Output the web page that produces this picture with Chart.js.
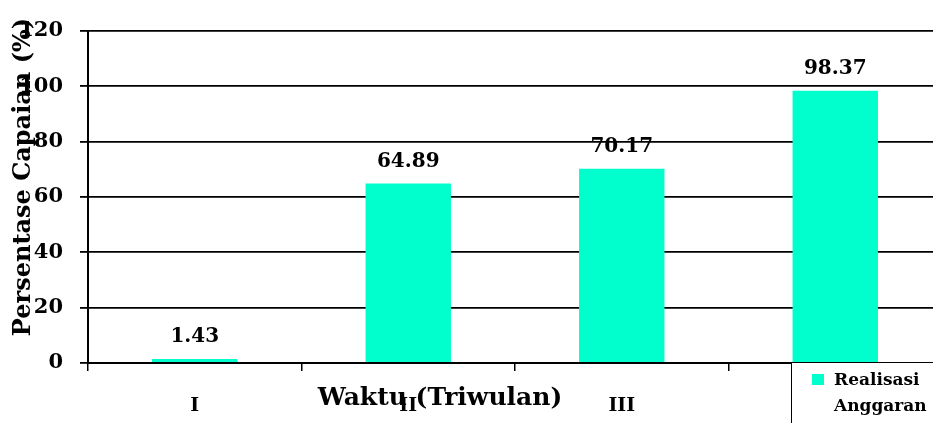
<!DOCTYPE html>
<html>
<head>
<meta charset="utf-8">
<script src="https://cdn.jsdelivr.net/npm/chart.js@4.4.1/dist/chart.umd.min.js"></script>
<style>
html,body{margin:0;padding:0;background:#fff;overflow:hidden;}
#wrap{width:945px;height:423px;position:relative;}
</style>
</head>
<body>
<div id="wrap"><canvas id="grafik"></canvas></div>
<script>
// data
const triwulan = ["I", "II", "III", "IV"];
const realisasi = [1.43, 64.89, 70.17, 98.37];
const namaSeri = ["Realisasi", "Anggaran"];
const judulY = "Persentase Capaian (%)";
const judulX = "Waktu (Triwulan)";

const hurufSerif = "'DejaVu Serif', 'Liberation Serif', serif";
const warnaBatang = "#00ffcc";

// label nilai di atas batang
const labelNilai = {
    id: "labelNilai",
    afterDatasetsDraw(chart) {
        const ctx = chart.ctx;
        const meta = chart.getDatasetMeta(0);
        ctx.save();
        ctx.font = "bold 20px " + hurufSerif;
        ctx.fillStyle = "#000";
        ctx.textAlign = "center";
        ctx.textBaseline = "bottom";
        meta.data.forEach((bar, i) => {
            ctx.fillText(realisasi[i].toFixed(2), bar.x, bar.y - 12);
        });
        ctx.restore();
    }
};

// judul sumbu + kotak legenda (ditumpuk di atas seperti aslinya)
const hiasan = {
    id: "hiasan",
    afterDraw(chart) {
        const ctx = chart.ctx;
        ctx.save();
        ctx.fillStyle = "#000";

        ctx.font = "bold 25px " + hurufSerif;
        ctx.textAlign = "center";
        ctx.textBaseline = "middle";
        ctx.fillText(judulX, 440, 398);

        ctx.font = "bold 24px " + hurufSerif;
        ctx.translate(24, 177);
        ctx.rotate(-Math.PI / 2);
        ctx.fillText(judulY, 0, 0);
        ctx.restore();

        // legenda
        ctx.save();
        const lx = 791, ly = 362;
        ctx.fillStyle = "#fff";
        ctx.fillRect(lx, ly, 200, 80);
        ctx.strokeStyle = "#000";
        ctx.lineWidth = 1;
        ctx.strokeRect(lx + 0.5, ly + 0.5, 200, 80);
        ctx.fillStyle = warnaBatang;
        ctx.fillRect(812, 374, 12, 11);
        ctx.fillStyle = "#000";
        ctx.font = "bold 17px " + hurufSerif;
        ctx.textAlign = "left";
        ctx.textBaseline = "middle";
        ctx.fillText(namaSeri[0], 834, 381);
        ctx.fillText(namaSeri[1], 834, 407);
        ctx.restore();
    }
};

new Chart(document.getElementById("grafik"), {
    type: "bar",
    data: {
        labels: triwulan,
        datasets: [{
            label: namaSeri.join(" "),
            data: realisasi,
            backgroundColor: warnaBatang,
            borderWidth: 0,
            barPercentage: 0.4,
            categoryPercentage: 1.0
        }]
    },
    options: {
        responsive: true,
        maintainAspectRatio: false,
        animation: false,
        layout: { padding: { left: 0, right: 3, top: 31, bottom: 0 } },
        scales: {
            x: {
                offset: true,
                afterFit(scale) { scale.height = 60; },
                grid: {
                    offset: true,
                    drawOnChartArea: false,
                    drawTicks: true,
                    tickLength: 8,
                    color: "#000",
                    lineWidth: 1.5
                },
                border: { color: "#000", width: 2 },
                ticks: {
                    color: "#000",
                    font: { family: hurufSerif, size: 19, weight: "bold" },
                    padding: 24
                }
            },
            y: {
                min: 0,
                max: 120,
                afterFit(scale) { scale.width = 88; },
                grid: {
                    color: "#000",
                    lineWidth: 1.8,
                    drawTicks: true,
                    tickLength: 8
                },
                border: { color: "#000", width: 2 },
                ticks: {
                    stepSize: 20,
                    color: "#000",
                    font: { family: hurufSerif, size: 21, weight: "bold" },
                    padding: 17
                }
            }
        },
        plugins: {
            legend: { display: false },
            tooltip: { enabled: false }
        }
    },
    plugins: [labelNilai, hiasan]
});
</script>
</body>
</html>
